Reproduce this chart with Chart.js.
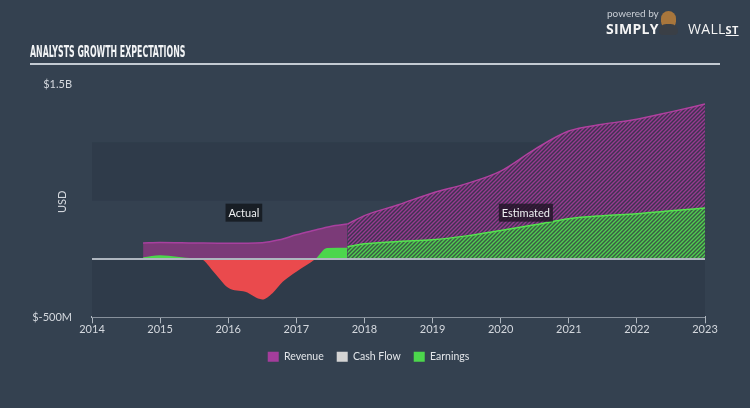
<!DOCTYPE html>
<html>
<head>
<meta charset="utf-8">
<script src="https://cdn.jsdelivr.net/npm/chart.js@4"></script>
<style>
  html, body { margin: 0; padding: 0; background: #344150; }
  body { width: 750px; height: 408px; position: relative; overflow: hidden; font-family: Lato, sans-serif; }
  #wrap { position: absolute; left: 0; top: 0; width: 750px; height: 408px; }
  .title { position: absolute; left: 30px; top: 42px; color: #f2f4f6; font: bold 16px 'DejaVu Sans Condensed', sans-serif;
           transform: scaleX(0.545); transform-origin: left top; white-space: nowrap; }
  .rule { position: absolute; left: 30px; top: 63px; width: 690px; height: 2px; background: #c3cad2; }
  .usd { position: absolute; left: 55px; top: 213px; color: #d4d8de; font-size: 11px; transform: rotate(-90deg); transform-origin: left top; }
  .logo1 { position: absolute; left: 607px; top: 7px; color: #c9ced5; font-size: 10px; }
  .logo2 { position: absolute; left: 606px; top: 19px; color: #f4f4f4; font: bold 14px 'Open Sans', sans-serif; letter-spacing: 0.3px; }
  .logo3 { position: absolute; left: 688px; top: 19px; color: #f4f4f4; font: 14px 'Open Sans', sans-serif; letter-spacing: 0.3px; }
  .logo3 u { font-size: 11px; font-weight: bold; }
  .bull { position: absolute; left: 661px; top: 11px; width: 15px; height: 18px; border-radius: 8px; background: #a8763c; }
  .bull2 { position: absolute; left: 659px; top: 24px; width: 19px; height: 11px; border-radius: 8px 8px 4px 4px; background: #3a3f46; }
</style>
</head>
<body>
<div id="wrap"><canvas id="growth" width="750" height="408"></canvas></div>
<div class="title">ANALYSTS GROWTH EXPECTATIONS</div>
<div class="rule"></div>
<div class="usd">USD</div>
<div class="logo1">powered by</div>
<div class="logo2">SIMPLY</div>
<div class="bull"></div><div class="bull2"></div>
<div class="logo3">WALL<u>ST</u></div>
<script>
// revenue, USD millions (actual then analyst estimates)
const revActualYears = [2014.75, 2015, 2015.5, 2016, 2016.5, 2016.75, 2017, 2017.25, 2017.5, 2017.75];
const revActual = [138, 142, 138, 135, 140, 164, 207, 244, 279, 299];
const revEstYears = [2017.75, 2018, 2018.5, 2019, 2019.5, 2020, 2020.5, 2021, 2021.5, 2022, 2022.5, 2023];
const revEst = [299, 372, 465, 566, 646, 753, 940, 1097, 1155, 1198, 1261, 1328];

// earnings, USD millions
const earnActualYears = [2014.75, 2015, 2015.25, 2015.5, 2015.6, 2015.8, 2016, 2016.25, 2016.5, 2016.65, 2016.8, 2017, 2017.28, 2017.45, 2017.75];
const earnActual = [15, 32, 20, 6, 0, -120, -247, -282, -347, -293, -195, -109, 0, 95, 97];
const earnEstYears = [2017.75, 2018, 2018.5, 2019, 2019.5, 2020, 2020.5, 2021, 2021.5, 2022, 2022.5, 2023];
const earnEst = [105, 130, 150, 164, 198, 244, 293, 345, 371, 388, 414, 437];

const xTicks = [2014, 2015, 2016, 2017, 2018, 2019, 2020, 2021, 2022, 2023];

const toPoints = (xs, ys) => xs.map((x, i) => ({ x: x, y: ys[i] }));

// diagonal hatch used for the estimated part
function hatch(bg, line) {
    const c = document.createElement('canvas');
    c.width = 4; c.height = 4;
    const g = c.getContext('2d');
    g.fillStyle = bg;
    g.fillRect(0, 0, 4, 4);
    g.strokeStyle = line;
    g.lineWidth = 1.4;
    g.beginPath();
    g.moveTo(-1, 5); g.lineTo(5, -1);
    g.moveTo(-1, 1); g.lineTo(1, -1);
    g.moveTo(3, 5); g.lineTo(5, 3);
    g.stroke();
    return g.createPattern(c, 'repeat');
}

const bands = {
    id: 'bands',
    beforeDatasetsDraw(chart) {
        const { ctx, chartArea: a, scales: { y } } = chart;
        ctx.save();
        ctx.fillStyle = '#2f3b4a';
        [[-500, 0], [500, 1000]].forEach(([lo, hi]) => {
            const t = y.getPixelForValue(hi), b = y.getPixelForValue(lo);
            ctx.fillRect(a.left, t, a.right - a.left, b - t);
        });
        ctx.restore();
    },
    afterDatasetsDraw(chart) {
        const { ctx, chartArea: a, scales: { x, y } } = chart;
        ctx.save();
        const z = y.getPixelForValue(0);
        ctx.strokeStyle = '#aeb6bf';
        ctx.lineWidth = 2;
        ctx.beginPath();
        ctx.moveTo(a.left, z); ctx.lineTo(a.right, z);
        ctx.stroke();
        // Actual / Estimated tags
        ctx.font = '11px Lato, sans-serif';
        ctx.textAlign = 'center';
        ctx.textBaseline = 'middle';
        [['Actual', 2016.23, 'rgba(22,27,34,0.92)'], ['Estimated', 2020.37, 'rgba(32,20,38,0.8)']].forEach(([t, xv, bg]) => {
            const cx = x.getPixelForValue(xv), cy = y.getPixelForValue(397);
            const w = ctx.measureText(t).width + 6;
            ctx.fillStyle = bg;
            ctx.fillRect(cx - w / 2, cy - 9, w, 18);
            ctx.fillStyle = '#eef0f2';
            ctx.fillText(t, cx, cy + 1);
        });
        ctx.restore();
    }
};

const ctx = document.getElementById('growth').getContext('2d');
new Chart(ctx, {
    type: 'line',
    data: {
        datasets: [
            {
                label: 'Earnings',
                data: toPoints(earnActualYears, earnActual),
                borderWidth: 0,
                pointRadius: 0,
                fill: { target: 'origin', above: '#4cd64c', below: '#ea4a4d' },
                order: 1
            },
            {
                label: 'Earnings est',
                data: toPoints(earnEstYears, earnEst),
                borderColor: '#55e34f',
                borderWidth: 1.5,
                pointRadius: 0,
                backgroundColor: hatch('#3c5946', '#4fcf4f'),
                fill: 'origin',
                order: 2
            },
            {
                label: 'Revenue',
                data: toPoints(revActualYears, revActual),
                borderColor: '#a8409f',
                borderWidth: 1.5,
                pointRadius: 0,
                backgroundColor: '#7b3a78',
                fill: 'origin',
                order: 3
            },
            {
                label: 'Revenue est',
                data: toPoints(revEstYears, revEst),
                borderColor: '#b0419f',
                borderWidth: 1.5,
                pointRadius: 0,
                backgroundColor: hatch('#3e3350', '#983a90'),
                fill: 'origin',
                order: 4
            }
        ]
    },
    options: {
        responsive: false,
        animation: false,
        cubicInterpolationMode: 'monotone',
        layout: { padding: { left: 32, right: 45, top: 84, bottom: 36 } },
        plugins: {
            tooltip: { enabled: false },
            legend: {
                position: 'bottom',
                labels: {
                    boxWidth: 11,
                    boxHeight: 10,
                    padding: 13,
                    color: '#e2e5e9',
                    font: { family: 'Lato, sans-serif', size: 10.5 },
                    generateLabels: () => [
                        { text: 'Revenue', fillStyle: '#a43d9c', strokeStyle: '#a43d9c', lineWidth: 0, fontColor: '#e2e5e9' },
                        { text: 'Cash Flow', fillStyle: '#d4d4d4', strokeStyle: '#d4d4d4', lineWidth: 0, fontColor: '#e2e5e9' },
                        { text: 'Earnings', fillStyle: '#4cd64c', strokeStyle: '#4cd64c', lineWidth: 0, fontColor: '#e2e5e9' }
                    ]
                },
                onClick: () => {}
            }
        },
        scales: {
            x: {
                type: 'linear',
                min: 2014,
                max: 2023,
                afterFit: (s) => { s.height += 2; },
                afterBuildTicks: (s) => { s.ticks = xTicks.map(v => ({ value: v })); },
                ticks: { color: '#d4d8de', font: { family: 'Lato, sans-serif', size: 11 }, padding: 0, callback: v => String(v) },
                grid: { drawOnChartArea: false, color: '#aeb6bf', tickLength: 6 },
                border: { color: '#aeb6bf', width: 2 }
            },
            y: {
                min: -500,
                max: 1500,
                afterFit: (s) => { s.width = 60; },
                afterBuildTicks: (s) => { s.ticks = [{ value: -500 }, { value: 1500 }]; },
                ticks: {
                    color: '#d4d8de',
                    font: { family: 'Lato, sans-serif', size: 11 },
                    padding: 12,
                    callback: v => v === 1500 ? '$1.5B' : '$-500M'
                },
                grid: { display: false },
                border: { display: false }
            }
        }
    },
    plugins: [bands]
});
</script>
</body>
</html>
